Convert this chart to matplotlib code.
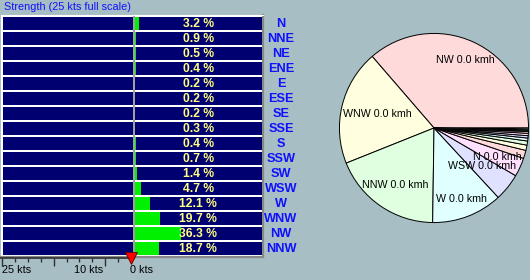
import matplotlib
matplotlib.use('Agg')
import matplotlib.pyplot as plt
import matplotlib.transforms as mtransforms
import numpy as np

# ---------------- data ----------------
directions = ['N', 'NNE', 'NE', 'ENE', 'E', 'ESE', 'SE', 'SSE',
              'S', 'SSW', 'SW', 'WSW', 'W', 'WNW', 'NW', 'NNW']
frequency_pct = [3.2, 0.9, 0.5, 0.4, 0.2, 0.2, 0.2, 0.3,
                 0.4, 0.7, 1.4, 4.7, 12.1, 19.7, 36.3, 18.7]
strength_kts = [0.0] * 16
strength_kmh = [0.0] * 16
scale_full_kts = 25
scale_ticks_kts = [25, 22.5, 20, 17.5, 15, 12.5, 10, 7.5, 5, 2.5, 0]
scale_major_kts = [25, 15, 5]
scale_labels = ['25 kts', '10 kts', '0 kts']
scale_label_at = [25, 11.1, 0.2]
pie_label_min_pct = 3.0
title = 'Strength (25 kts full scale)'

# ---------------- layout / style ----------------
pie_label_radius = {'NW': 0.79, 'WNW': 0.62, 'NNW': 0.73, 'W': 0.80,
                    'WSW': 0.65, 'N': 0.74}
BG = '#A6BEC4'
NAVY = '#000070'
GREEN = '#00F000'
YELLOW = '#FFFF80'
BLUE = '#1010FF'
PIE_COLORS = ['#FFDADA', '#FFFFE0', '#E0FFE0', '#E0FFFF', '#E0E0FF', '#FFE0FF']
FONT = 'Liberation Sans'

W, H = 530, 280
fig = plt.figure(figsize=(W / 100, H / 100), dpi=100, facecolor=BG)


def px(x0, y0, x1, y1):
    return [x0 / W, 1 - y1 / H, (x1 - x0) / W, (y1 - y0) / H]


fig.text(4 / W, 1 - 7.5 / H, title, color=BLUE, fontsize=7.8, family=FONT,
         ha='left', va='center')

# white panel behind bars
bg = fig.add_axes(px(0.5, 15, 262.5, 256.5))
bg.set_facecolor('white')
bg.set_xticks([]); bg.set_yticks([])
for s in ['top', 'left']:
    bg.spines[s].set_color('white')
for s in ['right', 'bottom']:
    bg.spines[s].set_color('#888888')
    bg.spines[s].set_linewidth(1.6)
bg.axvline((133.6 - 0.5) / 262, color='#A0A0A0', lw=1.5)

n = len(directions)
ypos = np.arange(n)

# left: strength
axl = fig.add_axes(px(2.5, 16.2, 132.5, 256.2))
axl.set_facecolor('none')
axl.barh(ypos, [scale_full_kts] * n, height=0.87, color=NAVY, lw=0)
axl.barh(ypos, strength_kts, height=0.87, color=GREEN, lw=0)
axl.set_xlim(scale_full_kts, 0)
axl.set_ylim(n - 0.5, -0.5)
axl.axis('off')

# right: frequency
axr = fig.add_axes(px(135, 16.2, 261.5, 256.2))
axr.set_facecolor('none')
axr.barh(ypos, [100] * n, height=0.87, color=NAVY, lw=0)
axr.barh(ypos, frequency_pct, height=0.87, color=GREEN, lw=0)
axr.set_xlim(0, 100)
axr.set_ylim(n - 0.5, -0.5)
axr.axis('off')
trans = mtransforms.blended_transform_factory(axr.transAxes, axr.transData)
for i, (d, p) in enumerate(zip(directions, frequency_pct)):
    axr.text(0.5, i + 0.05, f'{p:.1f} %', transform=trans, ha='center',
             va='center', color=YELLOW, fontsize=8.7, fontweight='bold',
             family=FONT)
    axr.text((281 - 135) / 126.5, i + 0.05, d, transform=trans, ha='center',
             va='center', color=BLUE, fontsize=9.2, fontweight='bold',
             family=FONT, clip_on=False)

# scale below
axs = fig.add_axes(px(2, 257.5, 131, 278))
axs.set_facecolor('none')
axs.set_xlim(scale_full_kts, 0)
axs.set_ylim(0, 1)
for s in ['bottom', 'left', 'right']:
    axs.spines[s].set_visible(False)
axs.spines['top'].set_color('#303030')
axs.spines['top'].set_linewidth(1.2)
axs.spines['top'].set_bounds(scale_full_kts + 0.4, -0.6)
axs.xaxis.set_ticks_position('top')
axs.set_xticks(scale_major_kts)
axs.set_xticks([t for t in scale_ticks_kts if t not in scale_major_kts], minor=True)
axs.tick_params(axis='x', which='major', direction='in', length=6, width=1,
                color='#303030', labeltop=False)
axs.tick_params(axis='x', which='minor', direction='in', length=3.2, width=1,
                color='#303030')
axs.set_yticks([])
for lab, at in zip(scale_labels, scale_label_at):
    axs.text(at, 0.38, lab, ha='left', va='center', fontsize=7.8, family=FONT,
             color='black')
axs.plot([strength_kts[0]], [1.0], marker='v', markersize=9, color='#FF0000',
         markeredgecolor='#600000', markeredgewidth=0.6, clip_on=False, zorder=10)

# pie
order = np.argsort(frequency_pct, kind='stable')[::-1]
pie_vals = [frequency_pct[i] for i in order]
pie_cols = [PIE_COLORS[k % len(PIE_COLORS)] for k in range(len(order))]
axp = fig.add_axes(px(338.5, 32.5, 529.5, 223.5))
wedges, _ = axp.pie(pie_vals, colors=pie_cols, startangle=0, counterclock=True,
                    wedgeprops=dict(edgecolor='black', linewidth=0.7))
axp.set_xlim(-1.01, 1.01)
axp.set_ylim(-1.01, 1.01)
axp.set_aspect('equal')
for w, i in zip(wedges, order):
    if frequency_pct[i] >= pie_label_min_pct:
        ang = np.deg2rad((w.theta1 + w.theta2) / 2)
        r = pie_label_radius.get(directions[i], 0.72)
        axp.text(r * np.cos(ang), r * np.sin(ang),
                 f'{directions[i]} {strength_kmh[i]:.1f} kmh',
                 ha='center', va='center', fontsize=7.7, family=FONT,
                 color='black')

fig.savefig('out.png', dpi=100, facecolor=BG)
